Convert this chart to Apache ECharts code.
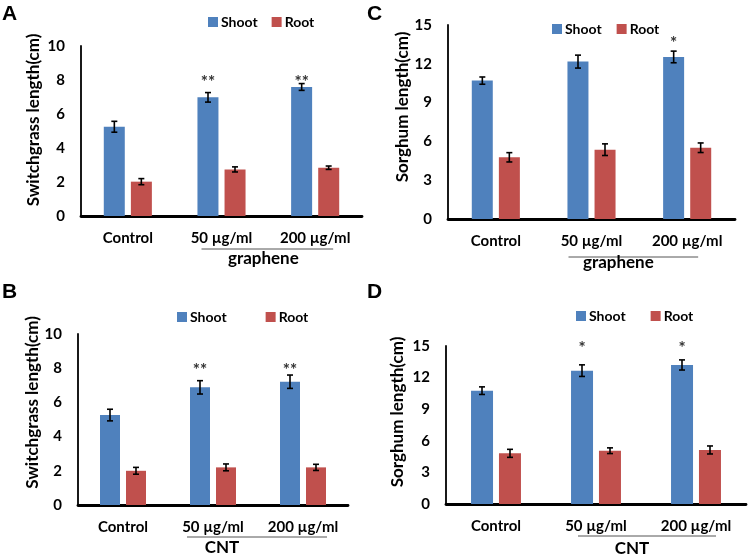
<!DOCTYPE html>
<html>
<head>
<meta charset="utf-8">
<script src="https://cdn.jsdelivr.net/npm/echarts@6/dist/echarts.min.js"></script>
<style>
html,body{margin:0;padding:0;background:#fff;}
#main{width:750px;height:558px;}
</style>
</head>
<body>
<div id="main"></div>
<script>
// ---------- data ----------
const categories = ['Control', '50 µg/ml', '200 µg/ml'];

const shootA = [5.25, 6.98, 7.59];
const shootErrA = [0.32, 0.28, 0.20];
const rootA = [2.02, 2.74, 2.84];
const rootErrA = [0.18, 0.15, 0.10];
const starsA = ['', '**', '**'];

const shootB = [5.26, 6.88, 7.21];
const shootErrB = [0.34, 0.39, 0.39];
const rootB = [2.00, 2.20, 2.20];
const rootErrB = [0.20, 0.20, 0.18];
const starsB = ['', '**', '**'];

const shootC = [10.70, 12.17, 12.53];
const shootErrC = [0.28, 0.50, 0.45];
const rootC = [4.77, 5.36, 5.51];
const rootErrC = [0.36, 0.45, 0.37];
const starsC = ['', '', '*'];

const shootD = [10.76, 12.66, 13.20];
const shootErrD = [0.36, 0.55, 0.48];
const rootD = [4.81, 5.06, 5.13];
const rootErrD = [0.38, 0.27, 0.38];
const starsD = ['', '*', '*'];

const yTicksSwitch = [0, 2, 4, 6, 8, 10];
const yTicksSorghum = [0, 3, 6, 9, 12, 15];

// ---------- panels (layout/style) ----------
const FONT = 'Lato, "Open Sans", sans-serif';
const BLUE = '#4F81BD', RED = '#C0504D';

const panels = [
  {letter:'A', lx:2, ly:4, shoot:shootA, sErr:shootErrA, root:rootA, rErr:rootErrA, stars:starsA, starLevel:8.1,
   ticks:yTicksSwitch, yName:'Switchgrass length(cm)', group:'graphene',
   grid:{left:81, top:46, width:281, height:170}, bw:21, gap:6, nameGap:39, namePad:22,
   legend:{left:203, top:10, gap:14}, ulL:20, ulR:18, ulY:33, gx:-4, gy:43},
  {letter:'C', lx:367, ly:4, shoot:shootC, sErr:shootErrC, root:rootC, rErr:rootErrC, stars:starsC, starLevel:13.9,
   ticks:yTicksSorghum, yName:'Sorghum length(cm)', group:'graphene',
   grid:{left:448, top:25, width:287, height:194}, bw:21, gap:6, nameGap:36, namePad:30,
   legend:{left:547, top:17, gap:15}, ulL:23, ulR:11, ulY:38, gx:-15, gy:44},
  {letter:'B', lx:2, ly:282, shoot:shootB, sErr:shootErrB, root:rootB, rErr:rootErrB, stars:starsB, starLevel:8.07,
   ticks:yTicksSwitch, yName:'Switchgrass length(cm)', group:'CNT',
   grid:{left:78, top:334, width:270, height:171}, bw:20, gap:6, nameGap:36, namePad:34,
   legend:{left:172, top:305, gap:39}, ulL:26, ulR:24, ulY:32, gx:-35, gy:43},
  {letter:'D', lx:367, ly:282, shoot:shootD, sErr:shootErrD, root:rootD, rErr:rootErrD, stars:starsD, starLevel:15.1,
   ticks:yTicksSorghum, yName:'Sorghum length(cm)', group:'CNT',
   grid:{left:446, top:346, width:300, height:158}, bw:22, gap:6, nameGap:40, namePad:26,
   legend:{left:571, top:304, gap:25}, ulL:18, ulR:20, ulY:32, gx:-15, gy:45}
];

const chart = echarts.init(document.getElementById('main'), null, {renderer:'canvas'});

const grids = [], xAxes = [], yAxes = [], series = [], legends = [];

function errRender(p, vals, errs, side) {
  return function (params, api) {
    const ci = params.dataIndex;
    const v = vals[ci], e = errs[ci];
    const c = api.coord([ci, v]);
    const x = c[0] + side * (p.bw + p.gap) / 2;
    const yt = api.coord([ci, v + e])[1];
    const yb = api.coord([ci, v - e])[1];
    const st = {stroke:'#000', lineWidth:1.6};
    const cw = 3;
    return {type:'group', children:[
      {type:'line', shape:{x1:x, y1:yt, x2:x, y2:yb}, style:st},
      {type:'line', shape:{x1:x-cw, y1:yt, x2:x+cw, y2:yt}, style:st},
      {type:'line', shape:{x1:x-cw, y1:yb, x2:x+cw, y2:yb}, style:st}
    ]};
  };
}

panels.forEach((p, i) => {
  grids.push(Object.assign({containLabel:false}, p.grid));
  const step = p.ticks[1] - p.ticks[0];
  xAxes.push({
    type:'category', gridIndex:i, data:categories,
    axisLine:{lineStyle:{color:'#000', width:2.8}},
    axisTick:{show:false},
    axisLabel:{color:'#000', fontFamily:FONT, fontWeight:'bold', fontSize:15, margin:15, interval:0}
  });
  yAxes.push({
    type:'value', gridIndex:i, min:p.ticks[0], max:p.ticks[p.ticks.length-1], interval:step,
    name:p.yName, nameLocation:'middle', nameRotate:90, nameGap:p.nameGap,
    nameTextStyle:{color:'#000', fontFamily:FONT, fontWeight:'bold', fontSize:17, padding:[0,0,0,p.namePad]},
    axisLine:{show:true, lineStyle:{color:'#000', width:1.8}},
    axisTick:{show:false},
    splitLine:{show:false},
    axisLabel:{color:'#000', fontFamily:FONT, fontWeight:'bold', fontSize:15, margin:16}
  });
  const barGap = Math.round(p.gap / p.bw * 100) + '%';
  series.push({
    type:'bar', name:'Shoot', xAxisIndex:i, yAxisIndex:i, data:p.shoot,
    barWidth:p.bw, barGap:barGap, itemStyle:{color:BLUE}
  });
  series.push({
    type:'bar', name:'Root', xAxisIndex:i, yAxisIndex:i, data:p.root,
    barWidth:p.bw, barGap:barGap, itemStyle:{color:RED}
  });
  series.push({
    type:'custom', name:'errS'+i, xAxisIndex:i, yAxisIndex:i, z:5,
    data:p.shoot.map((v, k) => [k, v]), renderItem:errRender(p, p.shoot, p.sErr, -1)
  });
  series.push({
    type:'custom', name:'errR'+i, xAxisIndex:i, yAxisIndex:i, z:5,
    data:p.root.map((v, k) => [k, v]), renderItem:errRender(p, p.root, p.rErr, 1)
  });
  series.push({
    type:'custom', name:'stars'+i, xAxisIndex:i, yAxisIndex:i, z:6,
    data:p.stars.map((s, k) => [k, p.starLevel]),
    renderItem:function (params, api) {
      const k = params.dataIndex;
      const c = api.coord([k, p.starLevel]);
      const x = c[0] - (p.bw + p.gap) / 2;
      return {type:'text', style:{text:p.stars[k], x:x, y:c[1] + 4, align:'center', verticalAlign:'middle',
        fill:'#333', font:'bold 17px ' + FONT}};
    }
  });
  legends.push({
    left:p.legend.left, top:p.legend.top, itemGap:p.legend.gap, itemWidth:10, itemHeight:10,
    icon:'rect', data:['Shoot', 'Root'], selectedMode:false,
    textStyle:{color:'#000', fontFamily:FONT, fontWeight:'bold', fontSize:14, padding:[0,0,0,-2]}
  });
});

chart.setOption({
  animation:false,
  backgroundColor:'#fff',
  grid:grids, xAxis:xAxes, yAxis:yAxes, series:series, legend:legends
});

// annotations: panel letters, group underline and group label
const graphics = [];
panels.forEach((p, i) => {
  graphics.push({type:'text', left:p.lx, top:p.ly,
    style:{text:p.letter, font:'bold 21px "Liberation Sans", Arial, sans-serif', fill:'#000'}});
  const x1 = chart.convertToPixel({xAxisIndex:i}, categories[1]);
  const x2 = chart.convertToPixel({xAxisIndex:i}, categories[2]);
  const base = p.grid.top + p.grid.height;
  const a = x1 - p.ulL, b = x2 + p.ulR;
  graphics.push({type:'line', shape:{x1:a, y1:base + p.ulY, x2:b, y2:base + p.ulY},
    style:{stroke:'#555', lineWidth:1}});
  graphics.push({type:'text', x:(a + b) / 2 + p.gx, y:base + p.gy,
    style:{text:p.group, align:'center', verticalAlign:'middle', font:'bold 17px ' + FONT, fill:'#000'}});
});
chart.setOption({graphic:graphics});
</script>
</body>
</html>
